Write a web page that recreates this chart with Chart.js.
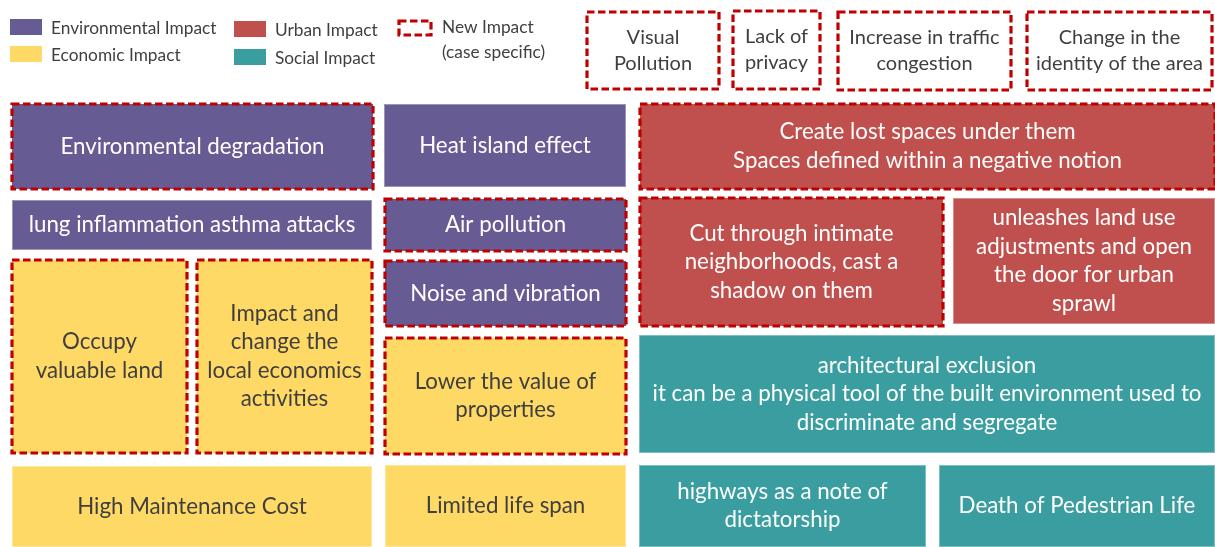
<!DOCTYPE html>
<html>
<head>
<meta charset="utf-8">
<script src="https://cdn.jsdelivr.net/npm/chart.js@4"></script>
<style>
  html, body { margin: 0; padding: 0; background: #ffffff; }
  canvas { display: block; }
</style>
</head>
<body>
<canvas id="impactChart" width="1215" height="547"></canvas>
<script>
// impact categories and their fill colours
const categoryNames = ['Environmental Impact', 'Economic Impact', 'Urban Impact', 'Social Impact'];
const categoryColors = ['#675b94', '#ffd966', '#c0504d', '#3a9ea0'];

// each box: label, category index (-1 = outline only), new impact flag, extent on the sheet
const boxLabels = [
  'Visual\nPollution',
  'Lack of\nprivacy',
  'Increase in traffic\ncongestion',
  'Change in the\nidentity of the area',
  'Environmental degradation',
  'Heat island effect',
  'Create lost spaces under them\nSpaces defined within a negative notion',
  'lung inflammation asthma attacks',
  'Air pollution',
  'Cut through intimate\nneighborhoods, cast a\nshadow on them',
  'unleashes land use\nadjustments and open\nthe door for urban\nsprawl',
  'Occupy\nvaluable land',
  'Impact and\nchange the\nlocal economics\nactivities',
  'Noise and vibration',
  'Lower the value of\nproperties',
  'architectural exclusion\nit can be a physical tool of the built environment used to\ndiscriminate and segregate',
  'High Maintenance Cost',
  'Limited life span',
  'highways as a note of\ndictatorship',
  'Death of Pedestrian Life'
];
const boxCategory = [-1, -1, -1, -1, 0, 0, 2, 0, 0, 2, 2, 1, 1, 0, 1, 3, 1, 1, 3, 3];
const boxIsNew = [true, true, true, true, true, false, true, false, true, true, false, true, true, true, true, false, false, false, false, false];
const boxX0 = [587, 733, 838, 1027, 12, 384, 640, 12, 385, 640, 953, 12, 197, 385, 385, 639, 12, 385, 639, 939];
const boxX1 = [719, 820, 1011, 1212, 373, 626, 1215, 372, 626, 943, 1215, 187, 372, 626, 626, 1215, 372, 626, 926, 1215];
const boxY0 = [12, 11, 12, 12, 104, 104, 104, 200, 199, 198, 198, 260, 260, 261, 338, 335, 466, 465, 465, 465];
const boxY1 = [89, 89, 90, 90, 189, 187, 189, 250, 251, 326, 324, 453, 453, 326, 454, 453, 547, 547, 547, 547];

const newImpactLabel = ['New Impact', '(case specific)'];

const sheet = {
  id: 'sheet',
  afterDatasetsDraw(chart) {
    const ctx = chart.ctx;
    const xs = chart.scales.x, ys = chart.scales.y;
    const px = v => xs.getPixelForValue(v);
    const py = v => ys.getPixelForValue(v);

    const dashed = (x, y, w, h) => {
      ctx.save();
      ctx.strokeStyle = '#c00000';
      ctx.lineWidth = 3.2;
      ctx.setLineDash([7.5, 3.5]);
      ctx.strokeRect(x, y, w, h);
      ctx.restore();
    };

    // boxes
    boxLabels.forEach((label, i) => {
      const x0 = px(boxX0[i]), x1 = px(boxX1[i]);
      const y0 = py(boxY0[i]), y1 = py(boxY1[i]);
      const cat = boxCategory[i];
      if (cat >= 0) {
        ctx.fillStyle = categoryColors[cat];
        ctx.fillRect(x0, y0, x1 - x0, y1 - y0);
        if (!boxIsNew[i]) {
          ctx.strokeStyle = 'rgba(255,255,255,0.35)';
          ctx.lineWidth = 1;
          ctx.strokeRect(x0 + 0.5, y0 + 0.5, x1 - x0 - 1, y1 - y0 - 1);
        }
      }
      if (boxIsNew[i]) dashed(x0, y0, x1 - x0, y1 - y0);

      const lines = label.split('\n');
      const small = cat < 0;
      const size = small ? 20 : 22.3;
      const lh = small ? 26 : 28.5;
      ctx.font = size + 'px Lato';
      ctx.textAlign = 'center';
      ctx.textBaseline = 'middle';
      ctx.fillStyle = (cat === 0 || cat === 2 || cat === 3) ? '#ffffff' : '#3f3f3f';
      const cx = (x0 + x1) / 2, cy = (y0 + y1) / 2;
      lines.forEach((ln, k) => {
        ctx.fillText(ln, cx, cy + (k - (lines.length - 1) / 2) * lh);
      });
    });

    // legend
    ctx.font = '17.3px Lato';
    ctx.textAlign = 'left';
    ctx.textBaseline = 'middle';
    const legendPos = [[10, 19], [10, 46], [234, 21], [234, 49]];
    categoryNames.forEach((name, i) => {
      const [lx, ly] = legendPos[i];
      ctx.fillStyle = categoryColors[i];
      ctx.fillRect(lx, ly, 32, 16);
      ctx.fillStyle = '#3f3f3f';
      ctx.fillText(name, lx + 41, ly + 9);
    });
    dashed(399, 21, 32, 14);
    ctx.fillStyle = '#3f3f3f';
    ctx.fillText(newImpactLabel[0], 442, 27);
    ctx.fillText(newImpactLabel[1], 442, 52);
  }
};

new Chart(document.getElementById('impactChart'), {
  type: 'scatter',
  data: {
    datasets: [{
      data: boxLabels.map((l, i) => ({ x: (boxX0[i] + boxX1[i]) / 2, y: (boxY0[i] + boxY1[i]) / 2 })),
      pointRadius: 0
    }]
  },
  options: {
    responsive: false,
    animation: false,
    layout: { padding: 0 },
    plugins: { legend: { display: false }, tooltip: { enabled: false } },
    scales: {
      x: { type: 'linear', min: 0, max: 1215, display: false },
      y: { type: 'linear', min: 0, max: 547, reverse: true, display: false }
    }
  },
  plugins: [sheet]
});
</script>
</body>
</html>
